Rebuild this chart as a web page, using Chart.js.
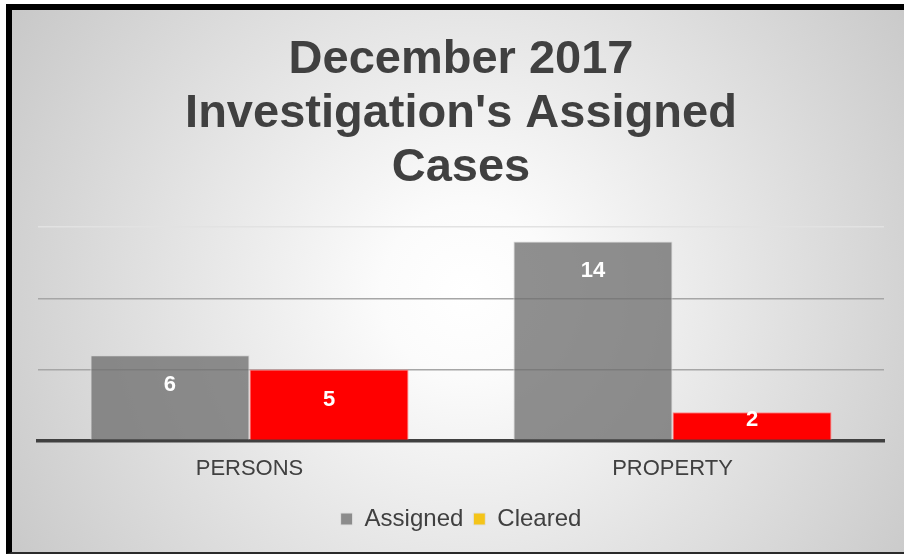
<!DOCTYPE html>
<html lang="en">
<head>
<meta charset="UTF-8">
<title>December 2017 Investigation's Assigned Cases</title>
<script src="https://cdn.jsdelivr.net/npm/chart.js"></script>
<style>
    html, body { margin: 0; padding: 0; background: #fff; overflow: hidden; width: 904px; height: 554px; }
    .frame {
        position: absolute; left: 6px; top: 4px;
        width: 910px; height: 542px;
        border-left: 6px solid #000; border-top: 6px solid #000; border-bottom: 2px solid #2a2a2a;
        background: radial-gradient(circle farthest-corner at 50% 52%, #ffffff 0%, #fbfbfb 16%, #c8c8c8 100%);
    }
    .box { position: absolute; left: 0; top: 0; width: 892px; height: 542px; }
</style>
</head>
<body>
<div class="frame">
    <div class="box"><canvas id="myChart"></canvas></div>
</div>
<script>
    const titulo = ['December 2017', "Investigation's Assigned", 'Cases'];
    const categorias = ['PERSONS', 'PROPERTY'];
    const assigned = [6, 14];
    const cleared = [5, 2];
    const nomesSeries = ['Assigned', 'Cleared'];
    const coresLegenda = ['#8c8c8c', '#f4c419'];

    // rotulos brancos dentro das barras
    const rotulos = {
        id: 'rotulos',
        afterDatasetsDraw(chart) {
            const ctx = chart.ctx;
            ctx.save();
            ctx.fillStyle = '#ffffff';
            ctx.font = 'bold 22px "Liberation Sans", Arial, sans-serif';
            ctx.textAlign = 'center';
            ctx.textBaseline = 'middle';
            chart.data.datasets.forEach(function (ds, i) {
                const meta = chart.getDatasetMeta(i);
                meta.data.forEach(function (bar, j) {
                    const y = Math.min(bar.y + 27, bar.base - 23);
                    ctx.fillText(ds.data[j], bar.x, y + 3);
                });
            });
            ctx.restore();
        }
    };

    const data = {
        labels: categorias,
        datasets: [{
            label: nomesSeries[0],
            data: assigned,
            backgroundColor: 'rgba(112,112,112,0.78)',
            borderColor: '#d6d6d6',
            borderWidth: 1
        }, {
            label: nomesSeries[1],
            data: cleared,
            backgroundColor: '#ff0000',
            borderColor: '#ff8a8a',
            borderWidth: 1
        }]
    };

    const config = {
        type: 'bar',
        data: data,
        plugins: [rotulos],
        options: {
            responsive: true,
            maintainAspectRatio: false,
            animation: false,
            layout: { padding: { left: 26, right: 20, top: 0, bottom: 11 } },
            datasets: { bar: { categoryPercentage: 0.752, barPercentage: 1.0 } },
            plugins: {
                tooltip: { enabled: false },
                title: {
                    display: true,
                    text: titulo,
                    color: '#404040',
                    font: { family: '"Liberation Sans", Arial, sans-serif', size: 47, weight: 'bold', lineHeight: 1.15 },
                    padding: { top: 23, bottom: 32 }
                },
                legend: {
                    position: 'bottom',
                    labels: {
                        color: '#404040',
                        font: { family: '"Liberation Sans", Arial, sans-serif', size: 24 },
                        boxWidth: 12,
                        boxHeight: 12,
                        padding: 10,
                        generateLabels: function (chart) {
                            return nomesSeries.map(function (n, i) {
                                return {
                                    text: n,
                                    fillStyle: coresLegenda[i],
                                    strokeStyle: '#e0e0e0',
                                    lineWidth: 1,
                                    fontColor: '#404040',
                                    datasetIndex: i
                                };
                            });
                        }
                    }
                }
            },
            scales: {
                x: {
                    z: 1,
                    grid: { display: false, drawTicks: false },
                    border: { display: true, color: '#404040', width: 3.5 },
                    ticks: {
                        color: '#404040',
                        padding: 15,
                        font: { family: '"Liberation Sans", Arial, sans-serif', size: 22 }
                    }
                },
                y: {
                    min: 0,
                    max: 15,
                    ticks: { display: false, stepSize: 5 },
                    border: { display: false },
                    grid: {
                        drawTicks: false,
                        lineWidth: 1.5,
                        color: function (c) { return c.tick && c.tick.value === 15 ? '#e2e2e2' : '#a6a6a6'; }
                    }
                }
            }
        }
    };

    const myChart = new Chart(document.getElementById('myChart'), config);
</script>
</body>
</html>
